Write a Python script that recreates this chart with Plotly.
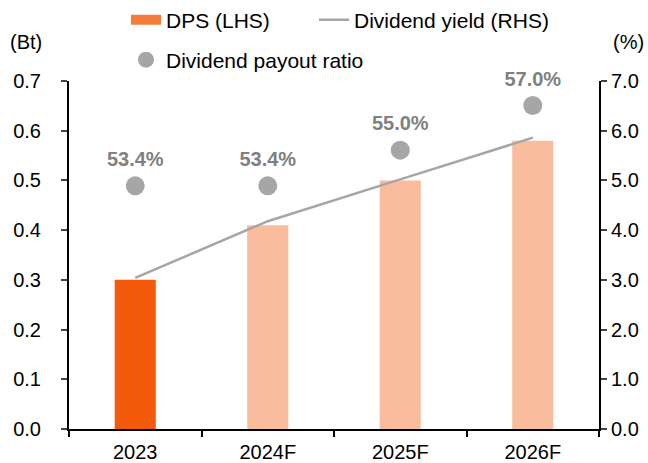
import plotly.graph_objects as go

categories = ["2023", "2024F", "2025F", "2026F"]
dps = [0.30, 0.41, 0.50, 0.58]
dividend_yield = [3.04, 4.18, 5.02, 5.86]
payout_ratio = [53.4, 53.4, 55.0, 57.0]
payout_labels = ["53.4%", "53.4%", "55.0%", "57.0%"]
left_ticks = [0.0, 0.1, 0.2, 0.3, 0.4, 0.5, 0.6, 0.7]
right_ticks = [0.0, 1.0, 2.0, 3.0, 4.0, 5.0, 6.0, 7.0]
legend_swatch_dps = [None, None, None, None]

FONT = "Liberation Sans, Arial, sans-serif"
bar_colors = ["#F45A0C"] + ["#F9BC9C"] * 3

fig = go.Figure()
fig.add_trace(go.Bar(x=categories, y=dps, marker=dict(color=bar_colors, line=dict(width=0)),
                     width=0.31, name="DPS", showlegend=False))
fig.add_trace(go.Scatter(x=categories, y=legend_swatch_dps, mode="lines",
                         line=dict(color="#F57B3A", width=10),
                         name="DPS (LHS)", legend="legend", hoverinfo="skip"))
fig.add_trace(go.Scatter(x=categories, y=dividend_yield, mode="lines",
                         line=dict(color="#A6A6A6", width=2.5), name="Dividend yield (RHS)",
                         yaxis="y2", legend="legend3"))
fig.add_trace(go.Scatter(x=categories, y=payout_ratio, mode="markers",
                         marker=dict(color="#A6A6A6", size=19), name="Dividend payout ratio",
                         yaxis="y3", legend="legend2"))
fig.add_trace(go.Scatter(x=categories, y=payout_ratio, mode="markers+text", text=payout_labels,
                         textposition="top center", cliponaxis=False,
                         texttemplate="<b>%{text}</b>",
                         textfont=dict(family=FONT, size=20, color="#808080"),
                         marker=dict(color="rgba(0,0,0,0)", size=22),
                         yaxis="y3", showlegend=False, hoverinfo="skip"))

fig.add_annotation(xref="paper", yref="paper", x=-0.115, y=1.112, xanchor="left", yanchor="middle",
                   text="(Bt)", showarrow=False, font=dict(family=FONT, size=20, color="black"))
fig.add_annotation(xref="paper", yref="paper", x=1.0887, y=1.112, xanchor="right", yanchor="middle",
                   text="(%)", showarrow=False, font=dict(family=FONT, size=20, color="black"))

legend_common = dict(orientation="h", xref="container", yref="container",
                     xanchor="left", yanchor="middle", font=dict(size=21),
                     bgcolor="rgba(0,0,0,0)")

fig.update_layout(
    width=648, height=463,
    margin=dict(l=69, r=49, t=81, b=34),
    paper_bgcolor="white", plot_bgcolor="white",
    font=dict(family=FONT, size=20, color="black"),
    barmode="overlay",
    xaxis=dict(type="category", automargin=False,
               showline=True, linecolor="black", linewidth=2,
               ticks="outside", tickson="boundaries", ticklen=6, tickwidth=2, tickcolor="black",
               showgrid=False, ticklabelstandoff=4),
    yaxis=dict(range=[0, 0.7], tickvals=left_ticks, tickformat=".1f", showline=True,
               linecolor="black", linewidth=2, ticks="outside", ticklen=6, tickwidth=2,
               showgrid=False, zeroline=False, automargin=False, ticklabelstandoff=16),
    yaxis2=dict(range=[0, 7.0], tickvals=right_ticks, tickformat=".1f", overlaying="y",
                side="right", showline=True, linecolor="black", linewidth=2, ticks="outside",
                ticklen=6, tickwidth=2, showgrid=False, zeroline=False, automargin=False,
                ticklabelstandoff=0),
    yaxis3=dict(range=[42.5, 58.1], overlaying="y", visible=False),
    legend=dict(legend_common, x=126/648, y=0.9568),
    legend3=dict(legend_common, x=314/648, y=0.9568),
    legend2=dict(legend_common, x=126/648, y=0.8704),
)

fig.write_html("out.html", config={"displayModeBar": False},
               post_script="document.body.style.margin='0';document.body.style.overflow='hidden';")
